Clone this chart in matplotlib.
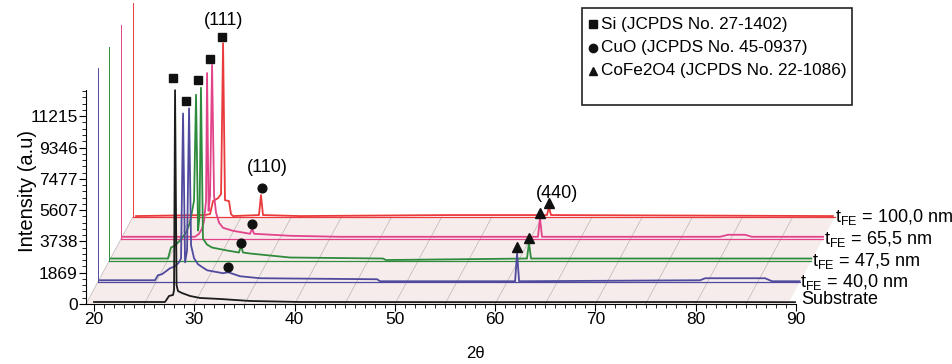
import matplotlib
matplotlib.use("Agg")
import matplotlib.pyplot as plt
from matplotlib.patches import Polygon, Rectangle
from matplotlib.lines import Line2D
from matplotlib.ticker import MultipleLocator, FixedLocator

plt.rcParams['font.family'] = ['Liberation Sans', 'DejaVu Sans']
plt.rcParams['mathtext.default'] = 'regular'

# stack offsets between samples (degrees, counts)
DX = 1.167
DY = 1298
XMIN, XMAX, YMAX = 19.2, 90.0, 12780
XEND = 89.2  # where the stacked baselines stop

yticks = [0, 1869, 3738, 5607, 7477, 9346, 11215]
xticks = [20, 30, 40, 50, 60, 70, 80, 90]

# own-frame patterns (2theta, intensity above own baseline)
sub_x = [20.0, 27.08, 27.48, 27.88, 27.98, 28.08, 28.23, 28.37, 28.77, 29.57, 30.57, 32.56, 35.55, 40.54, 60, 80, 89.9]
sub_y = [120, 120, 480, 540, 835, 12770, 1130, 775, 655, 480, 360, 300, 180, 120, 110, 120, 110]

s40_x = [19.43, 24.91, 25.21, 25.61, 26.41, 26.91, 27.31, 27.51, 27.71, 27.91, 28.11, 28.31, 28.51, 28.81, 29.21,
         30.11, 31.70, 32.2, 33.39, 35.39, 47.06, 47.36, 60.82, 61.02, 61.22, 79.27, 79.77, 85.75, 86.45, 89.2]
s40_y = [120, 120, 420, 480, 835, 955, 1190, 1430, 10080, 1190, 1910, 10380, 2200, 1430, 1070,
         715, 540, 600, 360, 240, 180, 60, 60, 1730, 60, 120, 240, 240, 60, 60]

s47_x = [19.36, 25.04, 25.34, 25.74, 26.24, 26.84, 27.24, 27.64, 27.84, 28.04, 28.19, 28.33, 28.53, 28.93, 29.43,
         30.93, 32.12, 32.32, 32.52, 33.22, 37.21, 46.48, 46.78, 60.84, 61.04, 61.24, 89.2]
s47_y = [120, 120, 775, 895, 1190, 1670, 2270, 3580, 9900, 1790, 2685, 10320, 1310, 955, 775,
         600, 480, 895, 480, 420, 180, 120, 30, 120, 1070, 120, 120]

s65_x = [19.39, 26.57, 26.97, 27.27, 27.47, 27.67, 27.77, 27.92, 28.07, 28.27, 28.47, 28.67, 28.97, 29.37, 30.37,
         32.06, 32.26, 32.46, 36.05, 41.03, 60.77, 60.97, 61.17, 78.92, 79.72, 81.42, 82.11, 89.2]
s65_y = [120, 120, 300, 600, 1070, 2270, 9900, 1670, 2565, 10380, 2565, 1550, 955, 655, 475,
         300, 600, 300, 180, 120, 120, 1250, 120, 120, 240, 240, 120, 120]

s100_x = [19.52, 26.40, 26.9, 27.2, 27.70, 28.00, 28.2, 28.39, 28.79, 28.99, 29.19, 31.78, 31.98, 32.18,
          35.87, 50.83, 60.50, 60.70, 60.90, 89.0]
s100_y = [60, 120, 180, 955, 1130, 1370, 10380, 1010, 955, 180, 60, 120, 1310, 120,
          60, 120, 120, 600, 120, 60]

patterns = [(sub_x, sub_y), (s40_x, s40_y), (s47_x, s47_y), (s65_x, s65_y), (s100_x, s100_y)]
colors = ['#1c1c1c', '#4f4a9e', '#2f8c3c', '#e2448a', '#ea3a3c']
labels = ['Substrate', r'$t_{FE}$ = 40,0 nm', r'$t_{FE}$ = 47,5 nm', r'$t_{FE}$ = 65,5 nm', r'$t_{FE}$ = 100,0 nm']

# phase markers: (2theta, height above own baseline) per sample
si_mk = [(27.88, 13485), (28.01, 10800), (28.04, 10800), (28.07, 10740), (28.1, 10740)]
cuo_mk = [(32.19, 895), (32.32, 1070), (32.25, 895), (32.09, 1730)]
cfo_mk = [(61.01, 2090), (61.04, 1370), (60.97, 1550), (60.69, 835)]

fig = plt.figure(figsize=(9.52, 3.64), dpi=100)
ax = fig.add_axes([86 / 952, 60 / 364, 710 / 952, 214 / 364])
ax.set_xlim(XMIN, XMAX)
ax.set_ylim(0, YMAX)

top = len(patterns) - 1
floor = Polygon([(XMIN, 0), (XEND, 0), (XEND + top * DX, top * DY), (XMIN + top * DX, top * DY)],
                closed=True, facecolor='#f6ecec', edgecolor='none', zorder=0, clip_on=False)
ax.add_patch(floor)
for d in [XMIN] + list(range(25, 90, 5)):
    ax.plot([d, d + top * DX], [0, top * DY], color='#bdb5b5', lw=0.5, zorder=1, clip_on=False)

for k in range(top, -1, -1):
    px, py = patterns[k]
    c = colors[k]
    ox, oy = k * DX, k * DY
    if k > 0:
        ax.plot([XMIN + ox, XEND + ox], [oy, oy], color=c, lw=0.9, zorder=2 + (top - k) * 2, clip_on=False)
        ax.plot([XMIN + ox, XMIN + ox], [oy, oy + YMAX], color=c, lw=0.7, zorder=2 + (top - k) * 2, clip_on=False)
    ax.plot([x + ox for x in px], [y + oy for y in py], color=c, lw=1.3,
            zorder=3 + (top - k) * 2, clip_on=False)
    if k == 0:
        ax.text(XMAX + 0.5, 250, labels[k], fontsize=13, ha='left', va='center', clip_on=False)
    else:
        ax.text(XEND + ox + 0.05, oy, labels[k], fontsize=13, ha='left', va='center', clip_on=False)

for k, (x, y) in enumerate(si_mk):
    ax.plot(x + k * DX, y + k * DY, marker='s', color='#111111', ms=6.3, zorder=20, clip_on=False)
for k, (x, y) in enumerate(cuo_mk, start=1):
    ax.plot(x + k * DX, y + k * DY, marker='o', color='#111111', ms=6.3, zorder=20, clip_on=False)
for k, (x, y) in enumerate(cfo_mk, start=1):
    ax.plot(x + k * DX, y + k * DY, marker='^', color='#111111', ms=6.8, zorder=20, clip_on=False)

ax.text(28.2 + 4 * DX, 11750 + 4 * DY, '(111)', fontsize=13, ha='center', va='center', clip_on=False)
ax.text(32.6 + 4 * DX, 2980 + 4 * DY, '(110)', fontsize=13, ha='center', va='center')
ax.text(61.5 + 4 * DX, 1430 + 4 * DY, '(440)', fontsize=13, ha='center', va='center')

ax.spines['top'].set_visible(False)
ax.spines['right'].set_visible(False)
ax.xaxis.set_major_locator(FixedLocator(xticks))
ax.xaxis.set_minor_locator(MultipleLocator(1))
ax.yaxis.set_major_locator(FixedLocator(yticks))
ax.yaxis.set_minor_locator(MultipleLocator(1869 / 5))
ax.tick_params(axis='both', which='major', labelsize=12.5, length=5, width=0.8, pad=1)
ax.tick_params(axis='both', which='minor', length=3, width=0.6)
ax.set_ylabel('Intensity (a.u)', fontsize=14.5)
ax.yaxis.set_label_coords(-0.069, 0.528)
fig.text(475 / 952, 1 - 353 / 364, '2θ', fontsize=12, ha='center', va='center')

# phase legend, drawn by hand
leg_marks = ['s', 'o', '^']
leg_text = ['Si (JCPDS No. 27-1402)', 'CuO (JCPDS No. 45-0937)', 'CoFe2O4 (JCPDS No. 22-1086)']
leg_rows_px = [24, 47.5, 71]
fig.add_artist(Rectangle((582 / 952, 1 - 105 / 364), 270 / 952, 97 / 364, transform=fig.transFigure,
                         facecolor='white', edgecolor='#222222', lw=1.2, zorder=30))
for m, t, yp in zip(leg_marks, leg_text, leg_rows_px):
    fig.add_artist(Line2D([593 / 952], [1 - yp / 364], marker=m, ls='none', color='#111111', ms=6,
                          transform=fig.transFigure, zorder=31))
    fig.text(601 / 952, 1 - yp / 364, t, fontsize=12.3, ha='left', va='center', zorder=31)

fig.savefig('out.png', dpi=100)
